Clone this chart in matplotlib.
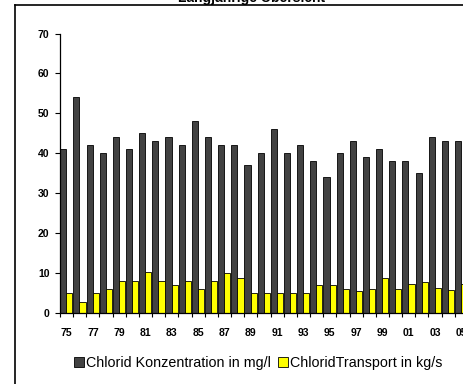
import numpy as np
import matplotlib
matplotlib.use("Agg")
import matplotlib.pyplot as plt
from matplotlib.lines import Line2D

years = ['75', '76', '77', '78', '79', '80', '81', '82', '83', '84', '85', '86',
         '87', '88', '89', '90', '91', '92', '93', '94', '95', '96', '97', '98',
         '99', '00', '01', '02', '03', '04', '05']
konzentration = [41, 54, 42, 40, 44, 41, 45, 43, 44, 42, 48, 44,
                 42, 42, 37, 40, 46, 40, 42, 38, 34, 40, 43, 39,
                 41, 38, 38, 35, 44, 43, 43]
transport = [5, 2.8, 5, 6, 8, 8, 10.2, 8, 7, 8, 6, 8,
             10, 8.8, 5, 5, 5, 5, 5, 7, 7.1, 6, 5.5, 6.1,
             8.8, 6.1, 7.3, 7.8, 6.3, 5.8, 7.3]
label_konz = 'Chlorid Konzentration in mg/l'
label_trans = 'ChloridTransport in kg/s'
title = 'Langjährige Übersicht'

plt.rcParams['font.family'] = ['Liberation Sans', 'DejaVu Sans']

W, H = 464, 384
fig = plt.figure(figsize=(W / 100, H / 100), dpi=100)

ncat = 32
left_px, right_px = 60, 60 + ncat * 13.16
top_px, bottom_px = 33.5, 313
ax = fig.add_axes([left_px / W, 1 - bottom_px / H,
                   (right_px - left_px) / W, (bottom_px - top_px) / H])

x = np.arange(len(years))
w = 0.465
ax.bar(x - w / 2 - 0.02, konzentration, width=w, color='#424242',
       edgecolor='black', linewidth=0.6, label=label_konz)
ax.bar(x + w / 2 - 0.02, transport, width=w, color='#FFFF00',
       edgecolor='black', linewidth=0.6, label=label_trans)

ax.set_xlim(-0.5, ncat - 0.5)
ax.set_ylim(0, 70)
ax.set_yticks(np.arange(0, 71, 10))
ax.tick_params(axis='y', direction='out', length=3.5, width=0.8, pad=4,
               labelsize=7.5)
for t in ax.get_yticklabels():
    t.set_fontweight('bold')

ax.set_xticks(x[::2])
ax.set_xticklabels(years[::2], fontsize=7.5, fontweight='bold')
ax.tick_params(axis='x', which='major', length=0, pad=10.5)
ax.set_xticks(np.arange(-0.5, ncat, 1), minor=True)
ax.tick_params(axis='x', which='minor', direction='out', length=3, width=0.8)

for s in ['top', 'right']:
    ax.spines[s].set_visible(False)
for s in ['left', 'bottom']:
    ax.spines[s].set_linewidth(0.9)

# chart border lines (cropped chart area)
fig.add_artist(Line2D([15.5 / W, 15.5 / W], [0, 1 - 5 / H], color='black',
                      linewidth=1.2, transform=fig.transFigure))
fig.add_artist(Line2D([15.5 / W, 1], [1 - 5 / H, 1 - 5 / H], color='black',
                      linewidth=1.2, transform=fig.transFigure))

fig.text(252 / W, 1 - 2.3 / H, title, ha='center', va='baseline',
         fontsize=10, fontweight='bold')

h, l = ax.get_legend_handles_labels()
fig.legend(h, l, loc='center', bbox_to_anchor=(258.5 / W, 1 - 363 / H),
           ncol=2, frameon=False, fontsize=10.3, handlelength=0.7,
           handleheight=0.7, handletextpad=0.15, columnspacing=0.5,
           borderpad=0, borderaxespad=0)

fig.savefig('out.png', dpi=100)
